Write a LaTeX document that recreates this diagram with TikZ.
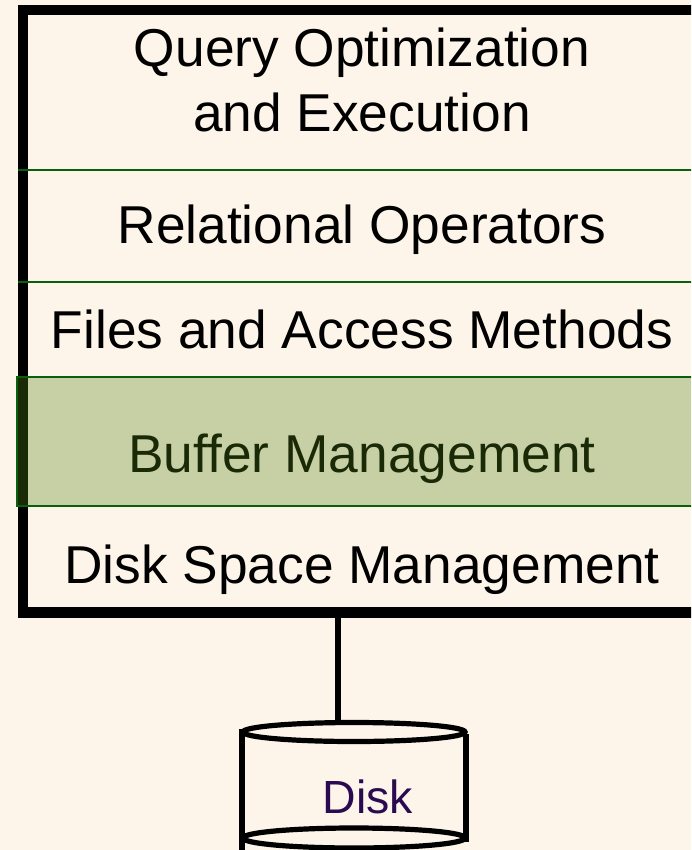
\documentclass[tikz,border=0pt]{standalone}
\usepackage{fontspec}
\setmainfont{Liberation Sans}
\definecolor{bgcream}{RGB}{254,245,234}
\definecolor{divgreen}{RGB}{10,95,10}
\definecolor{bandfill}{RGB}{84,131,19}
\definecolor{diskpurple}{RGB}{42,10,80}
\tikzset{
  layer/.style={anchor=base, inner sep=0pt, font=\fontsize{53.3}{64}\selectfont, text=black},
  divider/.style={draw=divgreen, line width=2.5pt},
  frame/.style={draw=black, line width=10.5pt, line join=miter},
  diskline/.style={draw=black, line width=5.2pt},
}
\begin{document}
\begin{tikzpicture}[x=1pt,y=-1pt]
\useasboundingbox (0,0) rectangle (691,850);
\clip (0,0) rectangle (691,850);
\fill[bgcream] (0,0) rectangle (691,850);

% texts
\node[layer] (q1) at (362,67) {Query Optimization};
\node[layer] (q2) at (362,132) {and Execution};
\node[layer] (rel) at (362,243) {Relational Operators};
\node[layer] (files) at (362,348) {Files and Access Methods};
\node[layer] (buf) at (362,472) {Buffer Management};
\node[layer] (dsm) at (362,583) {Disk Space Management};

% frame
\draw[frame] (23,10) rectangle (702,612.5);
\coordinate (framebot) at (338,618);

% dividers
\draw[divider] (18,170) -- (700,170);
\draw[divider] (18,282) -- (700,282);

% buffer band
\fill[bandfill, fill opacity=0.32] (17,377) rectangle (700,506);
\draw[draw=divgreen, line width=2.5pt] (17,377) rectangle (700,506);

% disk
\coordinate (disktop) at (338,723);
\draw[diskline] (framebot) -- (disktop);
\draw[diskline] (354,732) ellipse [x radius=111, y radius=9.5];
\draw[diskline] (242,729) -- (242,850);
\draw[diskline] (466,734) -- (466,842);
\draw[diskline] (354,838) ellipse [x radius=111, y radius=10];
\node[anchor=base, inner sep=0pt, font=\fontsize{46.5}{56}\selectfont, text=diskpurple] (disk) at (368,813) {Disk};
\end{tikzpicture}
\end{document}
